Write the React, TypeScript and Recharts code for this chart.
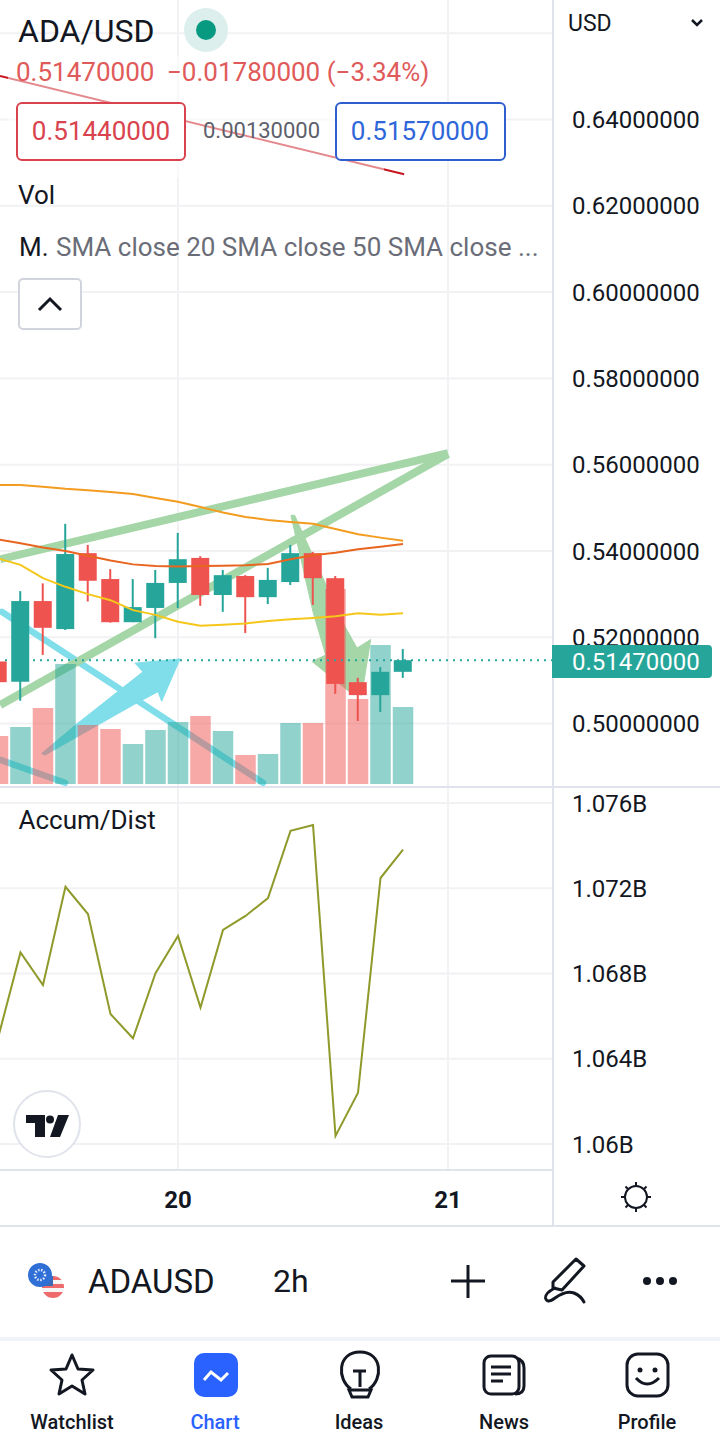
import React from 'react';
import { ComposedChart, Bar, Line, XAxis, YAxis, CartesianGrid, ReferenceLine } from 'recharts';

// hours counted from the "20" tick, one candle every 2h
const hours = [-16, -14, -12, -10, -8, -6, -4, -2, 0, 2, 4, 6, 8, 10, 12, 14, 16, 18, 20];
const opens = [0.5144, 0.5097, 0.5284, 0.5219, 0.5395, 0.5335, 0.5235, 0.5268, 0.5326, 0.5384, 0.5298, 0.5342, 0.5293, 0.5328, 0.5395, 0.5337, 0.5096, 0.5066, 0.512];
const highs = [0.515, 0.5307, 0.5325, 0.5463, 0.5414, 0.5358, 0.5335, 0.5356, 0.5442, 0.5388, 0.5356, 0.5344, 0.5361, 0.5414, 0.5398, 0.5342, 0.5106, 0.5131, 0.5173];
const lows = [0.508, 0.5053, 0.5159, 0.5217, 0.5283, 0.5234, 0.5235, 0.5198, 0.5268, 0.5273, 0.5259, 0.521, 0.5277, 0.5321, 0.5275, 0.5069, 0.5006, 0.5027, 0.5106];
const closes = [0.5096, 0.5284, 0.5222, 0.5393, 0.5331, 0.5235, 0.527, 0.5326, 0.5381, 0.5298, 0.5344, 0.5293, 0.5333, 0.5395, 0.5337, 0.5092, 0.5066, 0.512, 0.5147];
const volumes = [2.4, 2.85, 3.8, 6, 2.95, 2.75, 2, 2.7, 3.1, 3.4, 2.65, 1.45, 1.5, 3.05, 3.05, 9.75, 4.25, 6.95, 3.85];
const smaOrange = [0.5553, 0.5553, 0.5549, 0.5544, 0.5541, 0.5537, 0.5532, 0.5523, 0.5514, 0.5502, 0.5489, 0.5479, 0.5472, 0.5467, 0.5463, 0.5451, 0.5439, 0.5431, 0.5424];
const smaDark = [0.5427, 0.5418, 0.5408, 0.54, 0.5389, 0.5378, 0.5369, 0.5365, 0.5364, 0.5365, 0.5366, 0.5367, 0.537, 0.5381, 0.539, 0.5396, 0.5404, 0.541, 0.5416];
const smaYellow = [0.5383, 0.5368, 0.5337, 0.5317, 0.53, 0.5286, 0.5263, 0.5252, 0.5236, 0.5227, 0.5229, 0.5232, 0.5238, 0.5242, 0.5245, 0.5249, 0.5256, 0.5252, 0.5256];
const accumDist = [1.06496, 1.06899, 1.06746, 1.07207, 1.07079, 1.0661, 1.06496, 1.06801, 1.06976, 1.0664, 1.07004, 1.0707, 1.07154, 1.07469, 1.07497, 1.06038, 1.06241, 1.07248, 1.07381];

const priceTicks = [0.5, 0.52, 0.54, 0.56, 0.58, 0.6, 0.62, 0.64];
const priceGrid = [0.5, 0.52, 0.54, 0.56, 0.58, 0.6, 0.62, 0.64, 0.66];
const adTicks = [1.06, 1.064, 1.068, 1.072, 1.076];
const dayTicks = [0, 24];
const dayLabels: Record<number, string> = { 0: '20', 24: '21' };
const lastPrice = 0.5147;

// user drawings, in [hour, price]
const greenLines = [
  [[-15.8, 0.5381], [24, 0.5627]],
  [[-15.8, 0.5043], [24, 0.5625]],
];
const blueLines = [
  [[-15.67, 0.5259], [7.56, 0.4863]],
  [[-15.8, 0.4916], [-10.04, 0.4863]],
];
const redLine = [[-15.82, 0.6501], [20.1, 0.6273]];
const blueArrow = [[-12.12, 0.4931], [-9, 0.4999], [-3.11, 0.512], [-3.82, 0.514], [0.18, 0.515], [-1.45, 0.5052], [-1.78, 0.5074], [-4, 0.5043], [-11.82, 0.4927]];
const greenArrow = [[10.04, 0.5482], [12, 0.5259], [13.13, 0.5159], [11.91, 0.5144], [15.23, 0.5074], [16.33, 0.5066], [17.13, 0.5195], [15.91, 0.5175], [14.84, 0.5225], [10.36, 0.5483]];

const rows = hours.map((hour, i) => ({
  hour,
  open: opens[i],
  high: highs[i],
  low: lows[i],
  close: closes[i],
  range: [lows[i], highs[i]],
  volume: volumes[i],
  volumeUp: closes[i] >= opens[i],
  smaOrange: smaOrange[i],
  smaDark: smaDark[i],
  smaYellow: smaYellow[i],
  ad: accumDist[i],
}));

const UP = '#26a69a';
const DOWN = '#ef5350';
const INK = '#131722';
const GRID = '#f2f2f5';
const BORDER = '#e0e3eb';
const FONT = 'Roboto, sans-serif';

const xDomain: [number, number] = [-15.82, 33.33];
const priceDomain: [number, number] = [0.48554, 0.66769];
const volDomain: [number, number] = [-0.1, 39.2];

const Candle = (props: any) => {
  const { x, y, width, height, payload } = props;
  const color = payload.close >= payload.open ? UP : DOWN;
  const h = Math.abs(height);
  const perUnit = h / (payload.high - payload.low);
  const top = y + (payload.high - Math.max(payload.open, payload.close)) * perUnit;
  const bodyH = Math.abs(payload.close - payload.open) * perUnit;
  return (
    <g>
      <rect x={x + width / 2 - 1} y={y} width={2} height={h} fill={color} />
      <rect x={x} y={top} width={width} height={bodyH} fill={color} />
    </g>
  );
};

const VolumeBar = (props: any) => {
  const { x, y, width, height, payload } = props;
  return <rect x={x} y={y} width={width} height={height} fill={payload.volumeUp ? UP : DOWN} fillOpacity={0.5} />;
};

// maps a whole outline through the two ends the chart scaled for us
const outlineShape = (pts: number[][], fill: string) => (props: any) => {
  const { x1, y1, x2, y2 } = props;
  const [a, b] = [pts[0], pts[4]];
  const px = (h: number) => x1 + ((h - a[0]) * (x2 - x1)) / (b[0] - a[0]);
  const py = (p: number) => y1 + ((p - a[1]) * (y2 - y1)) / (b[1] - a[1]);
  return <polygon points={pts.map(([h, p]) => `${px(h)},${py(p)}`).join(' ')} fill={fill} stroke={fill} strokeWidth={1} strokeLinejoin="round" />;
};

const segment = (pts: number[][]) => [
  { x: pts[0][0], y: pts[0][1] },
  { x: pts[1][0], y: pts[1][1] },
];

const layer: React.CSSProperties = { position: 'absolute', left: 0, top: 0 };
const noMargin = { top: 0, right: 0, bottom: 0, left: 0 };
const rightMargin = { top: 0, right: 167, bottom: 0, left: 0 };

const PricePane = () => (
  <div style={{ position: 'absolute', left: 0, top: 0, width: 720, height: 786 }}>
    <div style={layer}>
      <ComposedChart width={720} height={786} data={rows} margin={rightMargin}>
        <XAxis dataKey="hour" type="number" domain={xDomain} allowDataOverflow hide />
        <YAxis yAxisId="price" domain={priceDomain} allowDataOverflow hide />
        <CartesianGrid yAxisId="price" stroke={GRID} strokeWidth={2} horizontalValues={priceGrid} verticalValues={dayTicks} />
        <ReferenceLine yAxisId="price" segment={segment(redLine)} stroke="#c8141e" strokeWidth={2} ifOverflow="visible" />
        {blueLines.map((l, i) => (
          <ReferenceLine key={i} yAxisId="price" segment={segment(l)} stroke="#80deea" strokeWidth={6.5} strokeLinecap="round" ifOverflow="visible" />
        ))}
        <ReferenceLine yAxisId="price" ifOverflow="visible" segment={[{ x: blueArrow[0][0], y: blueArrow[0][1] }, { x: blueArrow[4][0], y: blueArrow[4][1] }]} shape={outlineShape(blueArrow, '#80deea')} />
        {greenLines.map((l, i) => (
          <ReferenceLine key={i} yAxisId="price" segment={segment(l)} stroke="#a5d6a7" strokeWidth={8} ifOverflow="visible" />
        ))}
        <ReferenceLine yAxisId="price" ifOverflow="visible" segment={[{ x: greenArrow[0][0], y: greenArrow[0][1] }, { x: greenArrow[4][0], y: greenArrow[4][1] }]} shape={outlineShape(greenArrow, '#a5d6a7')} />
      </ComposedChart>
    </div>
    <div style={layer}>
      <ComposedChart width={720} height={786} data={rows} margin={rightMargin}>
        <XAxis dataKey="hour" type="number" domain={xDomain} allowDataOverflow hide />
        <YAxis yAxisId="vol" domain={volDomain} allowDataOverflow hide />
        <Bar yAxisId="vol" dataKey="volume" barSize={20.5} shape={VolumeBar} isAnimationActive={false} />
      </ComposedChart>
    </div>
    <div style={layer}>
      <ComposedChart width={720} height={786} data={rows} margin={noMargin}>
        <XAxis dataKey="hour" type="number" domain={xDomain} allowDataOverflow hide />
        <YAxis
          yAxisId="price"
          orientation="right"
          width={167}
          domain={priceDomain}
          allowDataOverflow
          ticks={priceTicks}
          tickFormatter={(v: number) => v.toFixed(8)}
          tick={{ fill: INK, fontSize: 24, fontFamily: FONT }}
          tickLine={false}
          tickMargin={13}
          axisLine={{ stroke: BORDER, strokeWidth: 2 }}
          interval={0}
        />
        <ReferenceLine yAxisId="price" y={lastPrice} stroke={UP} strokeWidth={2} strokeDasharray="2 5" ifOverflow="visible" />
        <Line yAxisId="price" dataKey="smaOrange" stroke="#f39c1f" strokeWidth={2} dot={false} isAnimationActive={false} />
        <Line yAxisId="price" dataKey="smaDark" stroke="#e8651f" strokeWidth={2} dot={false} isAnimationActive={false} />
        <Line yAxisId="price" dataKey="smaYellow" stroke="#f5c71a" strokeWidth={2} dot={false} isAnimationActive={false} />
        <Bar yAxisId="price" dataKey="range" barSize={18} shape={Candle} isAnimationActive={false} />
      </ComposedChart>
    </div>
  </div>
);

const AccumPane = () => (
  <div style={{ position: 'absolute', left: 0, top: 787, width: 720, height: 439 }}>
    <ComposedChart width={720} height={439} data={rows} margin={noMargin}>
      <CartesianGrid yAxisId="ad" stroke={GRID} strokeWidth={2} horizontalValues={adTicks} verticalValues={dayTicks} />
      <XAxis
        dataKey="hour"
        type="number"
        height={56}
        domain={xDomain}
        allowDataOverflow
        ticks={dayTicks}
        tickFormatter={(v: number) => dayLabels[v]}
        tick={{ fill: INK, fontSize: 24, fontWeight: 700, fontFamily: FONT }}
        tickLine={false}
        tickMargin={15}
        axisLine={{ stroke: BORDER, strokeWidth: 2 }}
      />
      <YAxis
        yAxisId="ad"
        orientation="right"
        width={167}
        domain={[1.05878, 1.07675]}
        allowDataOverflow
        ticks={adTicks}
        tickFormatter={(v: number) => `${v}B`}
        tick={{ fill: INK, fontSize: 24, fontFamily: FONT }}
        tickLine={false}
        tickMargin={13}
        axisLine={{ stroke: BORDER, strokeWidth: 2 }}
        interval={0}
      />
      <Line yAxisId="ad" dataKey="ad" stroke="#8f9a2b" strokeWidth={2} dot={false} isAnimationActive={false} />
    </ComposedChart>
  </div>
);

const Txt = ({ x, y, size, color = INK, weight = 400, center, children }: any) => (
  <div
    style={{
      position: 'absolute',
      left: x,
      top: y,
      transform: center ? 'translate(-50%, -50%)' : 'translateY(-50%)',
      fontFamily: FONT,
      fontSize: size,
      fontWeight: weight,
      color,
      whiteSpace: 'nowrap',
      lineHeight: 1,
    }}
  >
    {children}
  </div>
);

const Box = ({ x, y, w, h, color, radius = 6 }: any) => (
  <div style={{ position: 'absolute', left: x, top: y, width: w, height: h, boxSizing: 'border-box', border: `2px solid ${color}`, borderRadius: radius, background: '#fff' }} />
);

const Legend = () => (
  <>
    <div style={{ position: 'absolute', left: 8, top: 56, width: 376, height: 122, background: 'rgba(255,255,255,0.5)' }} />
    <Txt x={18} y={31} size={32}>ADA/USD</Txt>
    <Txt x={16} y={72} size={26} color="#e05a5a">0.51470000</Txt>
    <Txt x={167} y={72} size={26} color="#e05a5a">−0.01780000 (−3.34%)</Txt>
    <Box x={16} y={102} w={170} h={59} color="#d9434e" />
    <Txt x={101} y={131} size={26} color="#d9434e" center>0.51440000</Txt>
    <Txt x={203} y={131} size={22} color="#5d606b">0.00130000</Txt>
    <Box x={335} y={102} w={171} h={59} color="#2f5fcf" />
    <Txt x={420} y={131} size={26} color="#2f66d9" center>0.51570000</Txt>
    <Txt x={18} y={195} size={26}>Vol</Txt>
    <Txt x={19} y={247} size={26}>M.</Txt>
    <Txt x={56} y={247} size={26} color="#6a6d78">SMA close 20 SMA close 50 SMA close ...</Txt>
    <Box x={18} y={278} w={64} h={52} color="#d1d4dc" radius={5} />
    <Txt x={18.5} y={820} size={26}>Accum/Dist</Txt>
    <Txt x={568} y={23} size={23}>USD</Txt>
    <div style={{ position: 'absolute', left: 552, top: 645, width: 160, height: 33, background: UP, borderRadius: '0 4px 4px 0' }} />
    <Txt x={572} y={661.5} size={24} color="#fff">0.51470000</Txt>
    <div style={{ position: 'absolute', left: 552, top: 1170, width: 2, height: 56, background: BORDER }} />
    <div style={{ position: 'absolute', left: 0, top: 1225, width: 720, height: 2, background: BORDER }} />
    <div style={{ position: 'absolute', left: 0, top: 786, width: 720, height: 2, background: BORDER }} />
    <div style={{ position: 'absolute', left: 0, top: 1337, width: 720, height: 4, background: '#f0f3fa' }} />
    <Txt x={88} y={1281} size={33}>ADAUSD</Txt>
    <Txt x={273} y={1281} size={32}>2h</Txt>
    <Txt x={72} y={1422} size={20} weight={500} center>Watchlist</Txt>
    <Txt x={215} y={1422} size={20} weight={500} color="#2962ff" center>Chart</Txt>
    <Txt x={359} y={1422} size={20} weight={500} center>Ideas</Txt>
    <Txt x={504} y={1422} size={20} weight={500} center>News</Txt>
    <Txt x={647} y={1422} size={20} weight={500} center>Profile</Txt>
  </>
);

const Icons = () => (
  <svg width={720} height={1445} style={{ position: 'absolute', left: 0, top: 0, pointerEvents: 'none' }}>
    <defs>
      <clipPath id="flag">
        <circle cx={53} cy={1287} r={11} />
      </clipPath>
    </defs>
    <circle cx={206} cy={30} r={22} fill="#dcefec" />
    <circle cx={206} cy={30} r={10} fill="#089981" />
    <path d="M692 20 L697 25 L702 20" fill="none" stroke={INK} strokeWidth={2.5} />
    <path d="M39 310 L50 299 L61 310" fill="none" stroke={INK} strokeWidth={3} />
    <circle cx={47} cy={1124} r={33} fill="#fff" stroke="#e0e3eb" strokeWidth={2} />
    <path d="M26 1115 H45 V1137 H35 V1123 H26 Z" fill={INK} />
    <circle cx={50} cy={1119.5} r={4} fill={INK} />
    <path d="M58 1115 H69 L60 1137 H50 Z" fill={INK} />
    {/* sun */}
    <circle cx={636} cy={1197} r={11} fill="none" stroke={INK} strokeWidth={2} />
    <path d="M636 1182 V1186 M636 1208 V1212 M621 1197 H625 M647 1197 H651 M625.5 1186.5 L628 1189 M644 1205 L646.5 1207.5 M625.5 1207.5 L628 1205 M644 1189 L646.5 1186.5" stroke={INK} strokeWidth={2} />
    {/* symbol */}
    <g clipPath="url(#flag)">
      <rect x={40} y={1275} width={26} height={24} fill="#f5f5f5" />
      <rect x={40} y={1276} width={26} height={4} fill="#ef6a6a" />
      <rect x={40} y={1284} width={26} height={4} fill="#ef6a6a" />
      <rect x={40} y={1292} width={26} height={7} fill="#ef6a6a" />
      <rect x={40} y={1275} width={13} height={11} fill="#3c6bb5" />
    </g>
    <circle cx={40} cy={1275} r={12} fill="#2f6fd6" />
    <circle cx={40} cy={1275} r={5} fill="none" stroke="#dfe9fb" strokeWidth={2.5} strokeDasharray="1.5 1.5" />
    {/* toolbar */}
    <path d="M468 1265 V1298 M451 1281 H485" stroke={INK} strokeWidth={3} />
    <path d="M553 1282 L576 1259 L584 1266 L562 1290 L553 1288 Z" fill="none" stroke={INK} strokeWidth={3} strokeLinejoin="round" />
    <path d="M555 1288 Q545 1293 545.5 1298 Q547 1304 555 1298 Q566 1290 574 1293 Q581 1296 584 1302" fill="none" stroke={INK} strokeWidth={3} strokeLinecap="round" />
    <circle cx={647} cy={1281} r={4} fill={INK} />
    <circle cx={660} cy={1281} r={4} fill={INK} />
    <circle cx={673} cy={1281} r={4} fill={INK} />
    {/* tab bar */}
    <path d="M72 1355 L78 1369 L93 1370 L82 1380 L85 1394 L72 1386 L59 1394 L62 1380 L51 1370 L66 1369 Z" fill="none" stroke={INK} strokeWidth={3} strokeLinejoin="round" />
    <rect x={194} y={1353} width={44} height={44} rx={10} fill="#2962ff" />
    <path d="M204 1380 L211 1372 L221 1380 L228 1373" fill="none" stroke="#fff" strokeWidth={3} />
    <path d="M351 1389 C337 1380 337 1352 360 1352 C383 1352 383 1380 369 1389" fill="none" stroke={INK} strokeWidth={3} />
    <path d="M353 1371 H366 M360 1371 V1387 M349 1390 H371 L368 1397 H352 Z" fill="none" stroke={INK} strokeWidth={3} />
    <path d="M516 1358 Q524 1360 524 1368 V1386 Q524 1394 515 1394" fill="none" stroke={INK} strokeWidth={3} />
    <rect x={484} y={1356} width={35} height={38} rx={7} fill="#fff" stroke={INK} strokeWidth={3} />
    <path d="M491 1367 H511 M491 1374 H511 M491 1381 H503" stroke={INK} strokeWidth={3} />
    <rect x={627} y={1354} width={41} height={42} rx={11} fill="none" stroke={INK} strokeWidth={3} />
    <circle cx={640} cy={1370} r={2.5} fill={INK} />
    <circle cx={655} cy={1370} r={2.5} fill={INK} />
    <path d="M636 1378 Q647 1390 659 1378" fill="none" stroke={INK} strokeWidth={3} />
  </svg>
);

export default function App() {
  return (
    <div style={{ position: 'absolute', left: 0, top: 0, width: 720, height: 1445, background: '#fff', overflow: 'hidden' }}>
      <PricePane />
      <AccumPane />
      <Legend />
      <Icons />
    </div>
  );
}
